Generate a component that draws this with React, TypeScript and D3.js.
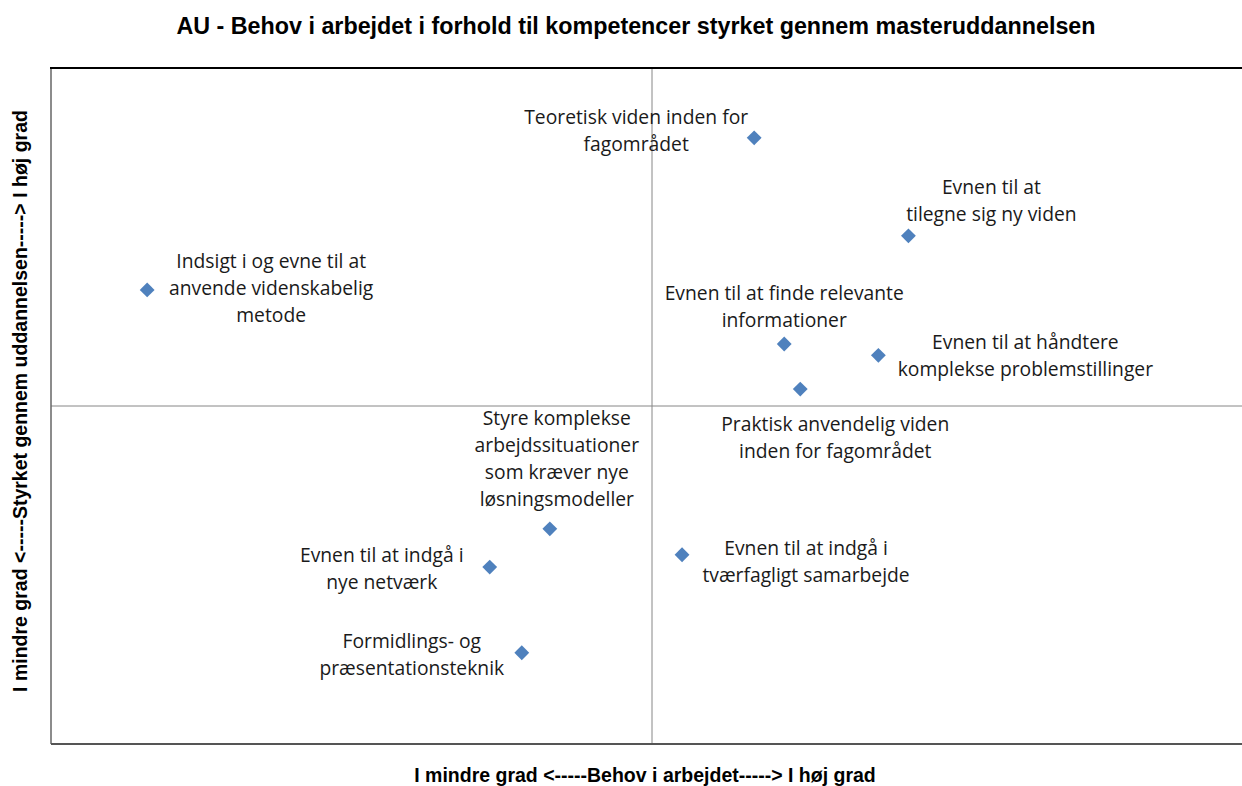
import React, { useEffect, useRef } from "react";
import * as d3 from "d3";

// competence labels (lines of each label)
const labels: string[][] = [
  ["Teoretisk viden inden for", "fagområdet"],
  ["Evnen til at", "tilegne sig ny viden"],
  ["Indsigt i og evne til at", "anvende videnskabelig", "metode"],
  ["Evnen til at finde relevante", "informationer"],
  ["Evnen til at håndtere", "komplekse problemstillinger"],
  ["Praktisk anvendelig viden", "inden for fagområdet"],
  ["Styre komplekse", "arbejdssituationer", "som kræver nye", "løsningsmodeller"],
  ["Evnen til at indgå i", "nye netværk"],
  ["Evnen til at indgå i", "tværfagligt samarbejde"],
  ["Formidlings- og", "præsentationsteknik"],
];

// behov i arbejdet (x) and styrket gennem uddannelsen (y), centred on 0
const behov = [0.51, 1.28, -2.52, 0.66, 1.13, 0.74, -0.51, -0.81, 0.15, -0.65];
const styrket = [2.38, 1.51, 1.03, 0.55, 0.45, 0.15, -1.09, -1.43, -1.32, -2.19];

// label offsets from the marker, in px: [dx, dy of first line]
const labelOffset: [number, number][] = [
  [-118, -22],
  [83, -50],
  [124, -30],
  [0, -52],
  [147, -14],
  [35, 34],
  [7, -112],
  [-108, -13],
  [124, -8],
  [-110, -13],
];

const title = "AU - Behov i arbejdet i forhold til kompetencer styrket gennem masteruddannelsen";
const xTitle = "I mindre grad <-----Behov i arbejdet-----> I høj grad";
const yTitle = "I mindre grad <-----Styrket gennem uddannelsen-----> I høj grad";

const App = () => {
  const svgRef = useRef(null);

  useEffect(() => {
    drawChart();
  }, []);

  const drawChart = () => {
    const svg = d3.select(svgRef.current);
    svg.selectAll("*").remove();

    const W = 1242;
    const H = 786;
    const plot = { left: 51, right: 1253, top: 68, bottom: 744 };

    const x = d3.scaleLinear().domain([-3, 3]).range([plot.left, plot.right]);
    const y = d3.scaleLinear().domain([-3, 3]).range([plot.bottom, plot.top]);

    svg.attr("width", W).attr("height", H).attr("viewBox", `0 0 ${W} ${H}`);
    svg.append("rect").attr("width", W).attr("height", H).attr("fill", "#fff");

    const font = "'Liberation Sans', Arial, sans-serif";
    const labelFont = "'Open Sans', sans-serif";

    // title
    svg
      .append("text")
      .attr("x", 636)
      .attr("y", 34)
      .attr("text-anchor", "middle")
      .attr("font-family", font)
      .attr("font-weight", "bold")
      .attr("font-size", 23.3)
      .attr("fill", "#000")
      .text(title);

    // quadrant lines through the origin
    svg
      .append("line")
      .attr("x1", x(0))
      .attr("x2", x(0))
      .attr("y1", plot.top)
      .attr("y2", plot.bottom)
      .attr("stroke", "#868686")
      .attr("stroke-width", 1);
    svg
      .append("line")
      .attr("x1", plot.left)
      .attr("x2", plot.right)
      .attr("y1", y(0))
      .attr("y2", y(0))
      .attr("stroke", "#868686")
      .attr("stroke-width", 1);

    // frame
    svg
      .append("line")
      .attr("x1", plot.left)
      .attr("x2", plot.left)
      .attr("y1", plot.top)
      .attr("y2", plot.bottom)
      .attr("stroke", "#666")
      .attr("stroke-width", 1.5);
    svg
      .append("line")
      .attr("x1", plot.left)
      .attr("x2", plot.right)
      .attr("y1", plot.bottom)
      .attr("y2", plot.bottom)
      .attr("stroke", "#555")
      .attr("stroke-width", 2);
    svg
      .append("line")
      .attr("x1", plot.left - 1)
      .attr("x2", plot.right)
      .attr("y1", plot.top)
      .attr("y2", plot.top)
      .attr("stroke", "#000")
      .attr("stroke-width", 2);

    const data = labels.map((lines, i) => ({
      lines,
      bx: behov[i],
      sy: styrket[i],
      off: labelOffset[i],
    }));

    // markers
    const diamond = d3.symbol().type(d3.symbolSquare).size(110);
    svg
      .append("g")
      .selectAll("path")
      .data(data)
      .enter()
      .append("path")
      .attr("d", diamond)
      .attr("transform", (d) => `translate(${x(d.bx)},${y(d.sy)}) rotate(45)`)
      .attr("fill", "#4F81BD");

    // data labels
    const lineH = 27;
    const lbl = svg
      .append("g")
      .selectAll("text")
      .data(data)
      .enter()
      .append("text")
      .attr("text-anchor", "middle")
      .attr("font-family", labelFont)
      .attr("font-size", 19.3)
      .attr("fill", "#1a1a1a")
      .attr("dominant-baseline", "central");
    lbl
      .selectAll("tspan")
      .data((d) =>
        d.lines.map((t, j) => ({
          t,
          px: x(d.bx) + d.off[0],
          py: y(d.sy) + d.off[1] + j * lineH,
        }))
      )
      .enter()
      .append("tspan")
      .attr("x", (d) => d.px)
      .attr("y", (d) => d.py)
      .text((d) => d.t);

    // axis titles
    svg
      .append("text")
      .attr("x", 645)
      .attr("y", 782)
      .attr("text-anchor", "middle")
      .attr("font-family", font)
      .attr("font-weight", "bold")
      .attr("font-size", 19.5)
      .attr("fill", "#000")
      .text(xTitle);
    svg
      .append("text")
      .attr("transform", "translate(27,401) rotate(-90)")
      .attr("text-anchor", "middle")
      .attr("font-family", font)
      .attr("font-weight", "bold")
      .attr("font-size", 19.5)
      .attr("fill", "#000")
      .text(yTitle);
  };

  return (
    <div style={{ position: "absolute", left: 0, top: 0 }}>
      <svg ref={svgRef} style={{ display: "block" }}></svg>
    </div>
  );
};

export default App;
